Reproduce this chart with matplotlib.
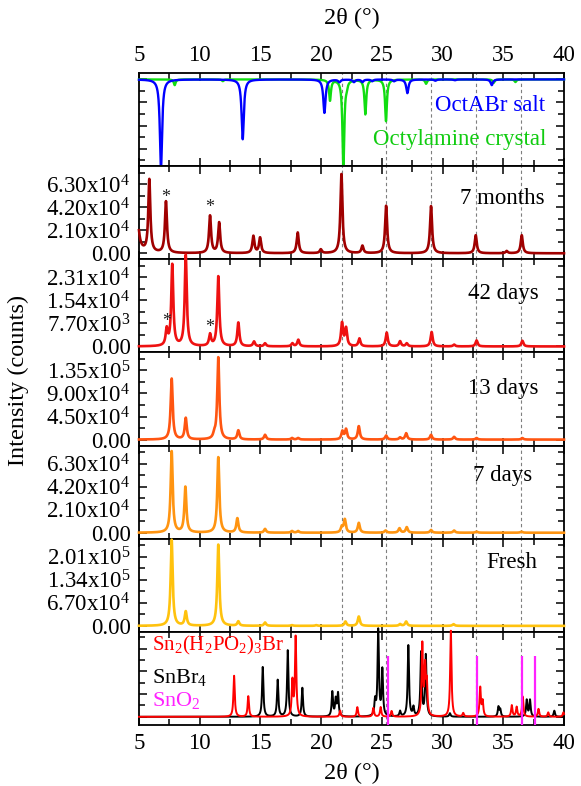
import numpy as np
import matplotlib
matplotlib.use('Agg')
import matplotlib.pyplot as plt
from matplotlib.ticker import MultipleLocator

plt.rcParams['font.family'] = ['Liberation Serif', 'DejaVu Serif']
plt.rcParams['mathtext.fontset'] = 'custom'
plt.rcParams['mathtext.rm'] = 'Liberation Serif'
plt.rcParams['mathtext.it'] = 'Liberation Serif:italic'
plt.rcParams['mathtext.bf'] = 'Liberation Serif:bold'

# ---------------- data (peak positions in 2theta, peak heights) ----------------
x_ticks = [5, 10, 15, 20, 25, 30, 35, 40]
guide_lines = [21.69, 25.35, 29.05, 32.73, 36.43]

# top reference panel (relative depth, drawn downward)
octabr_pos = [6.81, 13.54, 20.27, 21.5, 22.7, 23.4, 24.2, 26.0, 27.1, 29.4, 31.0, 34.05]
octabr_hts = [1.03, 0.69, 0.386, 0.03, 0.03, 0.03, 0.02, 0.02, 0.158, 0.015, 0.01, 0.066]
octyl_pos = [7.94, 11.9, 20.73, 21.83, 22.1, 23.64, 25.34, 28.64, 34.2, 36.0]
octyl_hts = [0.066, 0.02, 0.24, 1.03, 0.05, 0.40, 0.48, 0.05, 0.04, 0.03]

# 7 months
m7_pos = [4.70, 5.85, 7.22, 10.85, 11.60, 14.42, 14.97, 18.07, 19.97, 21.67, 23.40, 25.35, 29.05, 32.73, 35.28, 36.52]
m7_hts = [200000, 66000, 46800, 34000, 27700, 15500, 14000, 18900, 3400, 72100, 6700, 43200, 42900, 16400, 2000, 16400]
m7_ticks = [0, 21000, 42000, 63000]
m7_labels = ['0.00', r'2.10x10$^{4}$', r'4.20x10$^{4}$', r'6.30x10$^{4}$']

# 42 days
d42_pos = [7.28, 7.74, 8.85, 10.85, 11.53, 13.18, 14.47, 15.38, 17.63, 18.12, 21.72, 22.05, 23.15, 25.40, 26.50, 27.05, 29.10, 30.95, 32.80, 36.57]
d42_hts = [5360, 27100, 30400, 3800, 23300, 7900, 1600, 1000, 1000, 2200, 7700, 5900, 2600, 4600, 1700, 1000, 4800, 600, 2000, 1900]
d42_ticks = [0, 7700, 15400, 23100]
d42_labels = ['0.00', r'7.70x10$^{3}$', r'1.54x10$^{4}$', r'2.31x10$^{4}$']

# 13 days
d13_pos = [7.69, 8.85, 11.20, 11.53, 13.18, 15.38, 17.60, 18.10, 21.75, 22.05, 23.10, 25.35, 26.50, 27.00, 29.05, 30.95, 32.80, 36.57]
d13_hts = [118800, 41700, 8000, 160000, 17600, 9200, 3000, 3000, 15700, 19600, 26000, 7800, 4000, 12300, 9200, 5300, 3000, 3000]
d13_ticks = [0, 45000, 90000, 135000]
d13_labels = ['0.00', r'4.50x10$^{4}$', r'9.00x10$^{4}$', r'1.35x10$^{5}$']

# 7 days
d7_pos = [7.69, 8.82, 11.53, 13.10, 15.38, 17.60, 18.10, 21.70, 21.95, 23.10, 25.30, 26.45, 27.05, 29.05, 30.95, 32.80, 36.50]
d7_hts = [74000, 41400, 68700, 13000, 3400, 1500, 1500, 5000, 11900, 8900, 2000, 4000, 5000, 2500, 2000, 1000, 1000]
d7_ticks = [0, 21000, 42000, 63000]
d7_labels = ['0.00', r'2.10x10$^{4}$', r'4.20x10$^{4}$', r'6.30x10$^{4}$']

# Fresh
fr_pos = [7.69, 8.85, 11.53, 13.18, 15.38, 17.60, 19.60, 22.00, 23.10, 26.50, 27.00, 30.90]
fr_hts = [250000, 40800, 236000, 12600, 9700, 2000, 2000, 12600, 27200, 5000, 12600, 5000]
fr_ticks = [0, 67000, 134000, 201000]
fr_labels = ['0.00', r'6.70x10$^{4}$', r'1.34x10$^{5}$', r'2.01x10$^{5}$']

# bottom reference panel (relative heights)
sn2_pos = [12.83, 14.00, 17.63, 17.90, 21.56, 22.98, 24.30, 24.90, 25.80, 28.33, 28.56, 28.70, 30.68, 31.70,
           33.10, 33.30, 35.70, 36.10, 36.60, 37.90, 38.70, 39.95]
sn2_hts = [0.47, 0.235, 0.40, 0.91, 0.07, 0.11, 0.10, 0.11, 0.065, 0.815, 0.53, 0.35, 0.985, 0.04,
           0.33, 0.17, 0.13, 0.11, 0.23, 0.09, 0.05, 0.05]
snbr4_pos = [15.19, 16.42, 17.25, 18.45, 20.92, 21.20, 21.39, 24.44, 24.70, 25.04, 26.50, 27.18, 27.60,
             28.23, 28.62, 30.60, 34.60, 34.75, 36.93, 37.20, 39.20]
snbr4_hts = [0.57, 0.42, 0.76, 0.33, 0.28, 0.19, 0.26, 0.17, 0.985, 0.53, 0.06, 0.815, 0.10,
             0.73, 0.70, 0.04, 0.11, 0.08, 0.19, 0.19, 0.07]
sno2_pos = [25.54, 32.82, 36.52, 37.62]
sno2_hts = [0.70, 0.70, 0.70, 0.70]

# ---------------- helpers ----------------
xg = np.linspace(5, 40, 7001)


def profile(pos, hts, w):
    y = np.zeros_like(xg)
    for p, h in zip(pos, hts):
        y += h / (1.0 + ((xg - p) / w) ** 2)
    return y


fig = plt.figure(figsize=(5.81, 7.86), dpi=100)
gs = fig.add_gridspec(7, 1, left=139 / 581, right=564 / 581, top=1 - 73 / 786,
                      bottom=1 - 725 / 786, hspace=0)
axes = [fig.add_subplot(gs[i]) for i in range(7)]

for ax in axes:
    ax.set_xlim(5, 40)
    ax.xaxis.set_major_locator(MultipleLocator(5))
    ax.xaxis.set_minor_locator(MultipleLocator(2.5))
    ax.tick_params(axis='both', which='both', direction='in', top=True, bottom=True,
                   left=True, right=True, labelbottom=False, labelleft=False,
                   labelsize=16.5, width=1.1)
    ax.tick_params(axis='both', which='major', length=6)
    ax.tick_params(axis='both', which='minor', length=4)
    for s in ax.spines.values():
        s.set_linewidth(1.3)
    for v in guide_lines:
        ax.axvline(v, color='#7f7f7f', lw=0.8, ls=(0, (3, 2.5)), zorder=0)

# top panel
ax0 = axes[0]
ax0.plot(xg, -profile(octyl_pos, octyl_hts, 0.09), color='#11DD11', lw=1.7, clip_on=False, zorder=3)
ax0.plot(xg, -profile(octabr_pos, octabr_hts, 0.11), color='#0000FF', lw=1.7, clip_on=False, zorder=4)
ax0.set_ylim(-1.0, 0.074)
ax0.yaxis.set_major_locator(MultipleLocator(0.266))
ax0.yaxis.set_minor_locator(MultipleLocator(0.133))
ax0.tick_params(labeltop=True, pad=5)
ax0.text(0.955, 0.656, 'OctABr salt', color='#0000FF', transform=ax0.transAxes,
         ha='right', va='center', fontsize=16.5)
ax0.text(0.958, 0.29, 'Octylamine crystal', color='#11CC11', transform=ax0.transAxes,
         ha='right', va='center', fontsize=16.5)

samples = [
    (axes[1], m7_pos, m7_hts, m7_ticks, m7_labels, '#A00000', '7 months', 0.955, 0.656),
    (axes[2], d42_pos, d42_hts, d42_ticks, d42_labels, '#EE1111', '42 days', 0.94, 0.63),
    (axes[3], d13_pos, d13_hts, d13_ticks, d13_labels, '#FF5511', '13 days', 0.94, 0.61),
    (axes[4], d7_pos, d7_hts, d7_ticks, d7_labels, '#FF9411', '7 days', 0.925, 0.68),
    (axes[5], fr_pos, fr_hts, fr_ticks, fr_labels, '#FFC20E', 'Fresh', 0.938, 0.745),
]
for ax, pos, hts, ticks, labels, col, name, tx, ty in samples:
    d = ticks[1]
    ax.plot(xg, profile(pos, hts, 0.1), color=col, lw=1.9, clip_on=False, zorder=3)
    ax.set_ylim(-0.26 * d, 3.78 * d)
    ax.set_yticks(ticks)
    ax.set_yticklabels(labels)
    ax.yaxis.set_minor_locator(MultipleLocator(d / 2))
    ax.tick_params(axis='y', labelleft=True, pad=6)
    ax.text(tx, ty, name, transform=ax.transAxes, ha='right', va='center', fontsize=16.5)

# asterisks
for ax, xs, ys in [(axes[1], 7.22, 51000), (axes[1], 10.85, 41500),
                   (axes[2], 7.28, 8200), (axes[2], 10.85, 6200)]:
    ax.text(xs, ys, '*', ha='center', va='center', fontsize=13, color='#222222')

# bottom reference panel
axb = axes[6]
axb.plot(xg, profile(snbr4_pos, snbr4_hts, 0.065), color='black', lw=1.4, clip_on=False, zorder=3)
axb.plot(xg, profile(sn2_pos, sn2_hts, 0.065), color='#FF0000', lw=1.4, clip_on=False, zorder=4)
axb.set_ylim(-0.094, 0.974)
axb.vlines(sno2_pos, -0.094, sno2_hts, color='#FF22FF', lw=1.6, zorder=5)
axb.yaxis.set_major_locator(MultipleLocator(0.26))
axb.yaxis.set_minor_locator(MultipleLocator(0.13))
axb.tick_params(labelbottom=True, pad=6)
axb.text(0.03, 0.85, r'Sn$_2$(H$_2$PO$_2$)$_3$Br', color='#FF0000', transform=axb.transAxes,
         ha='left', va='center', fontsize=15)
axb.text(0.03, 0.51, r'SnBr$_4$', color='black', transform=axb.transAxes,
         ha='left', va='center', fontsize=16)
axb.text(0.03, 0.26, r'SnO$_2$', color='#FF22FF', transform=axb.transAxes,
         ha='left', va='center', fontsize=16)

xc = (139 + 564) / 2 / 581
fig.text(xc, 1 - 18 / 786, '2θ (°)', ha='center', va='center', fontsize=17.5)
fig.text(xc, 1 - 773 / 786, '2θ (°)', ha='center', va='center', fontsize=17.5)
fig.text(18 / 581, 1 - 380 / 786, 'Intensity (counts)', rotation=90, ha='center', va='center', fontsize=17.5)

fig.savefig('out.png', dpi=100)
